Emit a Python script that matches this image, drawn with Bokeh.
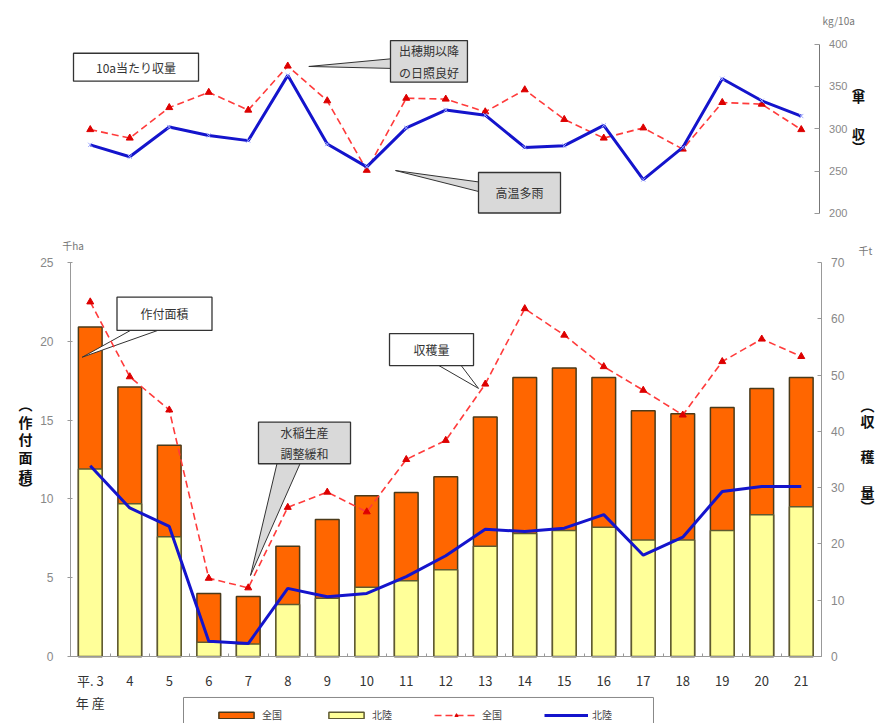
from bokeh.plotting import figure
from bokeh.models import (Range1d, LinearAxis, FixedTicker, Label, Legend,
                          LegendItem, ColumnDataSource)
from bokeh.layouts import column
from bokeh.embed import file_html
from bokeh.resources import INLINE

# ---------------- data ----------------
years = ["平. 3\n年 産", "4", "5", "6", "7", "8", "9", "10", "11", "12",
         "13", "14", "15", "16", "17", "18", "19", "20", "21"]
area_national = [20.9, 17.1, 13.4, 4.0, 3.8, 7.0, 8.7, 10.2, 10.4, 11.4,
                 15.2, 17.7, 18.3, 17.7, 15.6, 15.4, 15.8, 17.0, 17.7]
area_hokuriku = [11.9, 9.7, 7.6, 0.9, 0.8, 3.3, 3.7, 4.4, 4.8, 5.5,
                 7.0, 7.8, 8.0, 8.2, 7.4, 7.4, 8.0, 9.0, 9.5]
harvest_national = [63.0, 49.7, 43.8, 13.9, 12.2, 26.5, 29.2, 25.7, 35.0, 38.4,
                    48.4, 61.8, 57.1, 51.5, 47.3, 42.9, 52.4, 56.4, 53.3]
harvest_hokuriku = [33.9, 26.4, 23.1, 2.7, 2.3, 12.1, 10.6, 11.2, 14.2, 17.9,
                    22.6, 22.2, 22.8, 25.2, 18.0, 21.2, 29.3, 30.2, 30.2]
yield_national = [299, 289, 325, 343, 322, 374, 333, 251, 336, 335,
                  320, 346, 311, 289, 301, 276, 331, 329, 299]
yield_hokuriku = [281, 267, 302, 292, 286, 363, 282, 255, 301, 322,
                  316, 278, 280, 304, 240, 278, 359, 333, 315]

idx = list(range(len(years)))
src = ColumnDataSource(dict(x=idx, an=area_national, ah=area_hokuriku,
                            hn=harvest_national, hh=harvest_hokuriku,
                            yn=yield_national, yh=yield_hokuriku))

JP = "Noto Sans CJK JP"
ORANGE = "#FF6600"
YELLOW = "#FFFF99"
RED = "#FF3B3B"
REDMK = "#DD0000"
BLUE = "#1414CC"
XR = (-2.2722, 19.930)   # full-canvas x range (category index units)


def callout(p, box, text, fill, tip=None, base=None, fs="12px"):
    left, right, top, bottom = box
    if tip is not None:
        p.patch([base[0][0], tip[0], base[1][0]], [base[0][1], tip[1], base[1][1]],
                fill_color=fill, line_color="#333333", line_width=1)
    p.quad(left=left, right=right, top=top, bottom=bottom, fill_color=fill,
           line_color="#333333", line_width=1.3)
    p.add_layout(Label(x=(left + right) / 2, y=(top + bottom) / 2, text=text,
                       text_align="center", text_baseline="middle",
                       text_font=JP, text_font_size=fs, text_color="#333333",
                       text_line_height=1.25))


def lab(p, x, y, text, size="13px", color="#111111", align="center", style="bold",
        y_range_name="default"):
    p.add_layout(Label(x=x, y=y, text=text, text_align=align, text_baseline="middle",
                       text_font=JP, text_font_size=size, text_color=color,
                       text_font_style=style, y_range_name=y_range_name))


def style_axis(ax, tick_in, tick_out, standoff, size="12px"):
    ax.axis_line_color = "#999999"
    ax.major_tick_line_color = "#999999"
    ax.major_tick_in = tick_in
    ax.major_tick_out = tick_out
    ax.minor_tick_line_color = None
    ax.major_label_text_font = "Liberation Sans"
    ax.major_label_text_font_size = size
    ax.major_label_text_color = "#888888"
    ax.major_label_standoff = standoff


# ---------------- top chart: yield per 10a ----------------
p1 = figure(width=877, height=228, x_range=Range1d(*XR),
            y_range=Range1d(182.30, 451.33), output_backend="svg",
            toolbar_location=None, x_axis_location=None, y_axis_location=None,
            min_border=0)
p1.outline_line_color = None
p1.xgrid.visible = False
p1.ygrid.visible = False

ax1 = LinearAxis(bounds=(200, 400), fixed_location=18.45,
                 ticker=FixedTicker(ticks=[200, 250, 300, 350, 400]))
style_axis(ax1, 5, 0, 10, size="11px")
ax1.axis_line_color = "#777777"
p1.add_layout(ax1, "right")

callout(p1, (-0.424, 2.741, 389.1, 356.1), "10a当たり収量", "white")
callout(p1, (7.601, 9.549, 404.1, 354.9), "出穂期以降\nの日照良好", "#D9D9D9",
        tip=(5.533, 373.5), base=((7.70, 382.9), (7.70, 371.1)))
callout(p1, (9.829, 11.905, 248.4, 200.6), "高温多雨", "#D9D9D9",
        tip=(7.728, 250.7), base=((9.93, 236.6), (9.93, 224.8)))

p1.line("x", "yn", source=src, line_color=RED, line_width=1.6, line_dash="7 4")
p1.scatter("x", "yn", source=src, marker="triangle", size=7, fill_color=REDMK,
           line_color=REDMK)
p1.line("x", "yh", source=src, line_color=BLUE, line_width=3)
p1.scatter("x", "yh", source=src, marker="x", size=6, line_color="#9DA8FF",
           line_width=1)

lab(p1, 18.54, 427.7, "kg/10a", size="10px", color="#777777", align="left", style="normal")
lab(p1, 19.45, 351, "︵")
lab(p1, 19.45, 338, "単")
lab(p1, 19.45, 294.4, "収")
lab(p1, 19.45, 279, "︶")

# ---------------- bottom chart: area & harvest ----------------
p2 = figure(width=877, height=495, x_range=Range1d(*XR),
            y_range=Range1d(-4.251, 27.157), output_backend="svg",
            toolbar_location=None, x_axis_location=None, y_axis_location=None,
            min_border=0)
p2.extra_y_ranges = {"h": Range1d(-11.904, 76.04)}
p2.outline_line_color = None
p2.xgrid.visible = False
p2.ygrid.visible = False

xa = LinearAxis(fixed_location=0, bounds=(-0.5, 18.5),
                ticker=FixedTicker(ticks=idx,
                                   minor_ticks=[i - 0.5 for i in range(len(years) + 1)]))
xa.major_label_overrides = {i: years[i] for i in idx}
xa.major_tick_in = 0
xa.major_tick_out = 0
xa.minor_tick_in = 3
xa.minor_tick_out = 0
xa.axis_line_color = "#999999"
xa.minor_tick_line_color = "#999999"
xa.major_label_text_font = JP
xa.major_label_text_font_size = "13px"
xa.major_label_text_color = "#333333"
xa.major_label_standoff = 14
p2.add_layout(xa, "below")

ya = LinearAxis(fixed_location=-0.5, bounds=(0, 25),
                ticker=FixedTicker(ticks=[0, 5, 10, 15, 20, 25]))
style_axis(ya, 2, 3, 14)
p2.add_layout(ya, "left")

ra = LinearAxis(y_range_name="h", fixed_location=18.5, bounds=(0, 70),
                ticker=FixedTicker(ticks=[0, 10, 20, 30, 40, 50, 60, 70]))
style_axis(ra, 4, 0, 10)
p2.add_layout(ra, "right")

b_nat = p2.vbar(x="x", top="an", width=0.6, source=src, fill_color=ORANGE,
                line_color="#4A3A1A", line_width=1.5)
b_hok = p2.vbar(x="x", top="ah", width=0.6, source=src, fill_color=YELLOW,
                line_color="#5E5A30", line_width=1.5)

callout(p2, (0.677, 3.082, 22.80, 20.69), "作付面積", "white",
        tip=(-0.204, 18.99), base=((1.062, 20.75), (1.778, 20.75)))
callout(p2, (4.259, 6.589, 14.87, 12.23), "水稲生産\n調整緩和", "#D9D9D9",
        tip=(4.057, 5.14), base=((4.733, 12.3), (5.323, 12.3)))
callout(p2, (7.576, 9.703, 20.49, 18.46), "収穫量", "white",
        tip=(9.829, 17.01), base=((8.784, 18.52), (9.373, 18.52)))

l_nat = p2.line("x", "hn", source=src, y_range_name="h", line_color=RED,
                line_width=1.6, line_dash="7 4")
m_nat = p2.scatter("x", "hn", source=src, y_range_name="h", marker="triangle",
                   size=7, fill_color=REDMK, line_color=REDMK)
l_hok = p2.line("x", "hh", source=src, y_range_name="h", line_color=BLUE,
                line_width=3)

lab(p2, -0.437, 26.08, "千ha", size="10px", color="#777777", style="normal")
lab(p2, 19.45, 25.76, "千t", size="10px", color="#777777", align="left", style="normal")
for ch, yy in [("︵", 16.05), ("作", 14.91), ("付", 13.77), ("面", 12.63),
               ("積", 11.48), ("︶", 10.66)]:
    lab(p2, -1.64, yy, ch, size="14px")
for ch, yy in [("︵", 15.93), ("収", 14.97), ("穫", 12.75), ("量", 10.41),
               ("︶", 9.58)]:
    lab(p2, 19.68, yy, ch, size="14px")

# legend frame (open at the bottom edge, like the reference)
p2.quad(left=2.361, right=14.259, top=-2.60, bottom=-5.0, fill_color=None,
        line_color="#888888", line_width=1)

legend = Legend(items=[LegendItem(label="全国", renderers=[b_nat]),
                       LegendItem(label="北陸", renderers=[b_hok]),
                       LegendItem(label="全国", renderers=[l_nat, m_nat]),
                       LegendItem(label="北陸", renderers=[l_hok])],
                orientation="horizontal", location=(214, 1),
                glyph_width=44, glyph_height=8, label_height=12, label_width=30,
                spacing=32, padding=4, label_standoff=4,
                label_text_font=JP, label_text_font_size="10px",
                label_text_color="#444444", border_line_color=None,
                background_fill_alpha=0)
p2.add_layout(legend, "center")

layout = column(p1, p2, spacing=0)
open("out.html", "w").write(file_html(layout, INLINE))
